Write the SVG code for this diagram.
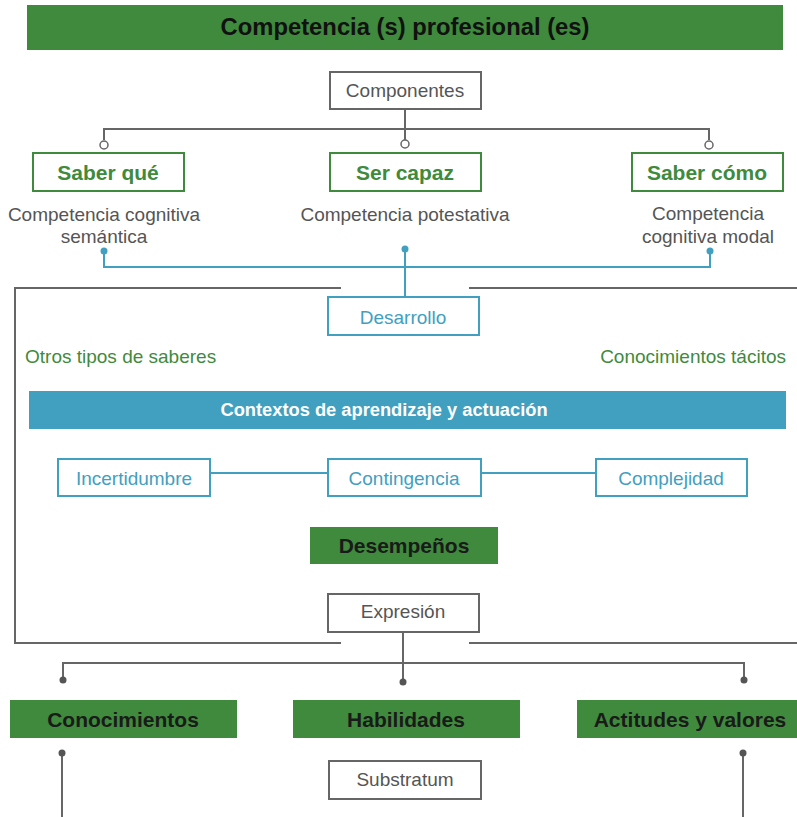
<svg xmlns="http://www.w3.org/2000/svg" width="797" height="817" viewBox="0 0 797 817">
<defs>
<style>
text{font-family:"Liberation Sans",Arial,Helvetica,sans-serif;text-anchor:middle}
.gbox{fill:#fff;stroke:#3f8a3c;stroke-width:2}
.gtxt{fill:#3f8a3c;font-weight:bold;font-size:21px}
.gfill{fill:#3f8a3c}
.dtxt{fill:#1a1a1a;font-weight:bold;font-size:21px}
.wbox{fill:#fff;stroke:#666;stroke-width:2}
.wtxt{fill:#555;font-size:19px}
.bbox{fill:#fff;stroke:#41a0bf;stroke-width:2}
.btxt{fill:#41a0bf;font-size:19px}
.gl{fill:none;stroke:#666;stroke-width:2}
.bl{fill:none;stroke:#41a0bf;stroke-width:2}
.green{fill:#3f8a3c;font-size:19px}
</style>
</defs>
<rect width="797" height="817" fill="#fff"/>

<g id="connectors">
<path class="gl" d="M405 109 V140 M104 140 V129 H709 V140"/>
<circle cx="104" cy="145" r="4" fill="#fff" stroke="#666" stroke-width="1.5"/>
<circle cx="405" cy="144" r="4" fill="#fff" stroke="#666" stroke-width="1.5"/>
<circle cx="709" cy="145" r="4" fill="#fff" stroke="#666" stroke-width="1.5"/>
<path class="bl" d="M104 251 V267 H710 V251 M405 249 V297"/>
<circle cx="104" cy="251" r="3.5" fill="#41a0bf"/>
<circle cx="405" cy="249" r="3.5" fill="#41a0bf"/>
<circle cx="710" cy="251" r="3.5" fill="#41a0bf"/>
<path class="gl" d="M341 288 H15 V643 H341 M469 288 H797 M469 643 H797"/>
<path class="bl" d="M210 473 H328 M481 473 H596"/>
<path class="gl" d="M403 632 V682 M63 680 V663 H744 V680"/>
<circle cx="63" cy="680" r="3.5" fill="#555"/>
<circle cx="403" cy="682" r="3.5" fill="#555"/>
<circle cx="744" cy="680" r="3.5" fill="#555"/>
<path class="gl" d="M62 753 V817 M743 753 V817"/>
<circle cx="62" cy="753" r="3.5" fill="#555"/>
<circle cx="743" cy="753" r="3.5" fill="#555"/>
</g>

<g id="title">
<rect class="gfill" x="27" y="5" width="756" height="45"/>
<text x="405" y="35" style="font-size:23.8px;font-weight:bold;fill:#111">Competencia (s) profesional (es)</text>
</g>

<g id="componentes">
<rect class="wbox" x="330" y="72" width="151" height="37"/>
<text class="wtxt" x="405" y="97">Componentes</text>
</g>

<g id="saber-que">
<rect class="gbox" x="33" y="153" width="151" height="38"/>
<text class="gtxt" x="108" y="180">Saber qué</text>
<text class="wtxt" x="104" y="221">Competencia cognitiva</text>
<text class="wtxt" x="104" y="243">semántica</text>
</g>

<g id="ser-capaz">
<rect class="gbox" x="330" y="153" width="151" height="38"/>
<text class="gtxt" x="405" y="180">Ser capaz</text>
<text class="wtxt" x="405" y="221">Competencia potestativa</text>
</g>

<g id="saber-como">
<rect class="gbox" x="632" y="153" width="151" height="38"/>
<text class="gtxt" x="707" y="180">Saber cómo</text>
<text class="wtxt" x="708" y="220">Competencia</text>
<text class="wtxt" x="708" y="243">cognitiva modal</text>
</g>

<g id="desarrollo">
<rect class="bbox" x="328" y="297" width="151" height="38"/>
<text class="btxt" x="403" y="324">Desarrollo</text>
</g>

<g id="otros">
<text class="green" x="25" y="363" style="text-anchor:start">Otros tipos de saberes</text>
</g>
<g id="tacitos">
<text class="green" x="786" y="363" style="text-anchor:end">Conocimientos tácitos</text>
</g>

<g id="contextos">
<rect x="29" y="391" width="757" height="38" fill="#41a0bf"/>
<text x="384" y="416" style="fill:#fff;font-size:18.3px;font-weight:bold">Contextos de aprendizaje y actuación</text>
</g>

<g id="incertidumbre">
<rect class="bbox" x="58" y="459" width="152" height="37"/>
<text class="btxt" x="134" y="485">Incertidumbre</text>
</g>
<g id="contingencia">
<rect class="bbox" x="328" y="459" width="153" height="37"/>
<text class="btxt" x="404" y="485">Contingencia</text>
</g>
<g id="complejidad">
<rect class="bbox" x="596" y="459" width="151" height="37"/>
<text class="btxt" x="671" y="485">Complejidad</text>
</g>

<g id="desempenos">
<rect class="gfill" x="310" y="527" width="188" height="37"/>
<text class="dtxt" x="404" y="553">Desempeños</text>
</g>

<g id="expresion">
<rect class="wbox" x="328" y="594" width="151" height="38"/>
<text class="wtxt" x="403" y="618">Expresión</text>
</g>

<g id="conocimientos">
<rect class="gfill" x="10" y="700" width="227" height="38"/>
<text class="dtxt" x="123" y="727">Conocimientos</text>
</g>
<g id="habilidades">
<rect class="gfill" x="293" y="700" width="227" height="38"/>
<text class="dtxt" x="406" y="727">Habilidades</text>
</g>
<g id="actitudes">
<rect class="gfill" x="577" y="700" width="220" height="38"/>
<text class="dtxt" x="690" y="727">Actitudes y valores</text>
</g>

<g id="substratum">
<rect class="wbox" x="329" y="761" width="152" height="38"/>
<text class="wtxt" x="405" y="786">Substratum</text>
</g>
</svg>
